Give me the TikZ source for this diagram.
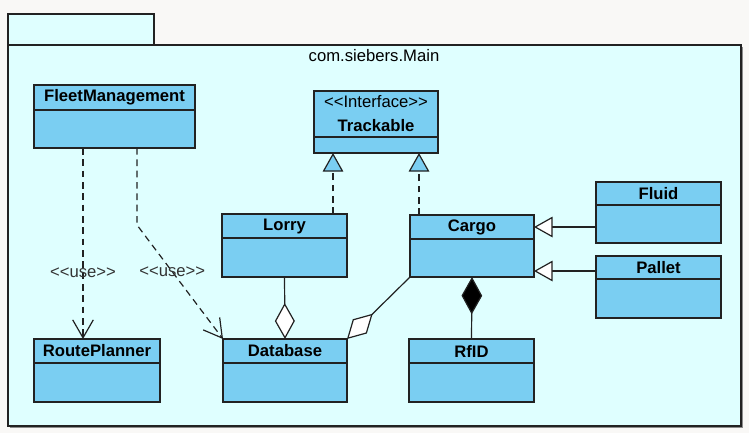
\documentclass[tikz,border=0pt]{standalone}
\usepackage{fontspec}
\setmainfont{Liberation Sans}
\usetikzlibrary{arrows.meta,calc}
\definecolor{pkgfill}{RGB}{223,255,255}
\definecolor{clsfill}{RGB}{122,206,242}
\definecolor{edge}{RGB}{34,34,34}
\definecolor{paper}{RGB}{249,248,246}
\def\px{0.75pt}
% class box: name, x1, y1, x2, y of divider, y2, label
\newcommand{\umlclass}[7]{%
  \node[classbox, minimum width={(#4-#2)*\px}, minimum height={(#6-#3)*\px}] (#1) at ({(#2+#4)/2},{(#3+#6)/2}) {};
  \draw[classline] (#2,#5) -- (#4,#5);
  \node[classname] (#1-name) at ({(#2+#4)/2},{(#3+#5)/2}) {#7};
}

\begin{document}
\begin{tikzpicture}[x=0.75pt,y=-0.75pt,
    classbox/.style={draw=edge,fill=clsfill,line width=0.9pt,rectangle,inner sep=0pt,outer sep=0pt},
    classline/.style={draw=edge,line width=0.9pt},
    classname/.style={font=\bfseries\fontsize{12.5}{15}\selectfont,align=center,inner sep=0pt},
    uselabel/.style={font=\fontsize{12.5}{15}\selectfont,text=black!80,inner sep=0pt},
    link/.style={draw=edge,line width=0.9pt},
    dashlink/.style={link,dash pattern=on 5pt off 3.5pt},
    uses/.style={dashlink,-{Straight Barb[length=13.5pt,width=15.5pt]}},
    realize/.style={dashlink,-{Triangle[length=14pt,width=15.5pt,fill=clsfill]}},
    inherit/.style={link,-{Triangle[length=14pt,width=15.5pt,fill=white]}},
    aggr/.style={link,-{Diamond[length=27pt,width=15pt,fill=white]}},
    compo/.style={link,{Diamond[length=28pt,width=15.5pt,fill=black]}-}]
        %
        \useasboundingbox (0,0) rectangle (749,433);
        \fill[paper] (0,0) rectangle (749,433);
        %
        % package
        \fill[black!45] (10,47) rectangle (743,428);
        \filldraw[fill=pkgfill,draw=edge,line width=0.9pt] (8,14) rectangle (154,45);
        \filldraw[fill=pkgfill,draw=edge,line width=0.9pt] (8,45) rectangle (741,426);
        \node[uselabel,text=black] (pkg) at (374,56) {com.siebers.Main};
        %
        % classes
        \umlclass{fm}{34}{85}{195}{110}{148}{FleetManagement}
        \umlclass{track}{314}{91}{438}{137}{153}{\mdseries{<}{<}Interface{>}{>}\\[3pt]Trackable}
        \umlclass{lorry}{222}{214}{347}{238}{277}{Lorry}
        \umlclass{cargo}{410}{215}{534}{239}{277}{Cargo}
        \umlclass{fluid}{596}{182}{721}{205}{243}{Fluid}
        \umlclass{pallet}{596}{256}{721}{279}{318}{Pallet}
        \umlclass{rp}{34}{339}{160}{363}{402}{RoutePlanner}
        \umlclass{db}{223}{339}{347}{363}{402}{Database}
        \umlclass{rfid}{409}{339}{534}{363}{402}{RfID}
        %
        % dependencies
        \coordinate (fmleft) at ($(fm.south west)+(49,0)$);
        \draw[uses] (fmleft) -- node[uselabel,pos=0.654] (use1) {{<}{<}use{>}{>}} (fmleft |- rp.north);
        \coordinate (fmbend) at ($(fm.south west)+(103,77)$);
        \draw[uses] (fmbend |- fm.south) -- (fmbend) -- node[uselabel,pos=0.41] (use2) {{<}{<}use{>}{>}} (db.north west);
        %
        % realizations
        \coordinate (lorrytop) at ($(lorry.north east)+(-14,0)$);
        \draw[realize] (lorrytop) -- (lorrytop |- track.south);
        \coordinate (cargotop) at ($(cargo.north west)+(9,0)$);
        \draw[realize] (cargotop) -- (cargotop |- track.south);
        %
        % generalizations
        \coordinate (fluidin) at ($(fluid.north west)+(0,45)$);
        \draw[inherit] (fluidin) -- (fluidin -| cargo.east);
        \coordinate (palletin) at ($(pallet.north west)+(0,15)$);
        \draw[inherit] (palletin) -- (palletin -| cargo.east);
        %
        % aggregation / composition
        \draw[aggr] (lorry.south) -- (db.north);
        \draw[aggr] (cargo.south west) -- (db.north east);
        \draw[compo] (cargo.south) -- (rfid.north);
      \end{tikzpicture}
\end{document}
